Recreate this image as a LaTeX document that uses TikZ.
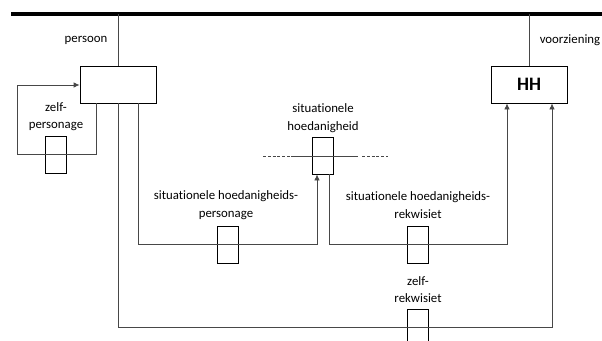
\documentclass[tikz,border=0pt]{standalone}
\usepackage{fontspec}
\setmainfont[Ligatures=NoCommon]{Carlito}
\usetikzlibrary{arrows.meta}
\begin{document}
\begin{tikzpicture}[x=1pt,y=-1pt,
  bigbox/.style={draw=black, line width=0.8pt, minimum width=76pt, minimum height=37pt, inner sep=0pt},
  smallbox/.style={draw=black, line width=0.8pt, minimum width=21pt, minimum height=37pt, inner sep=0pt},
  conn/.style={draw=black!72, line width=0.8pt},
  arr/.style={conn, -{Latex[length=6pt,width=5.5pt]}},
  lbl/.style={font=\fontsize{12.8}{17.5}\selectfont, align=center, inner sep=0pt},
  dashpart/.style={draw=black!72, line width=0.8pt, dash pattern=on 3pt off 1.8pt},
  bar/.style={draw=black, line width=4pt},
]
\useasboundingbox (0,0) rectangle (602,340);
\clip (0,0) rectangle (602,340);

% top bar
\coordinate (barL) at (11,14);
\coordinate (barR) at (602,14);
\draw[bar] (barL) -- (barR);

% main boxes
\node[bigbox] (persoon) at (118,84.5) {};
\node[bigbox, font=\fontsize{19}{22}\selectfont\bfseries] (hh) at (529,84.5) {HH};

% small boxes
\node[smallbox] (zp) at (55.5,155) {};
\node[smallbox] (sh) at (323,155.5) {};
\node[smallbox] (shp) at (227.5,244.5) {};
\node[smallbox] (shr) at (418,244.5) {};
\node[smallbox] (zr) at (418,327.5) {};

% labels
\node[lbl] (lpersoon) at (86,40) {persoon};
\node[lbl] (lvoorz) at (570,40) {voorziening};
\node[lbl] (lzp) at (56,116.5) {zelf-\\personage};
\node[lbl] (lsh) at (323,118) {situationele\\hoedanigheid};
\node[lbl] (lshp) at (226,205) {situationele hoedanigheids-\\personage};
\node[lbl] (lshr) at (418,205) {situationele hoedanigheids-\\rekwisiet};
\node[lbl] (lzr) at (418,289.5) {zelf-\\rekwisiet};

% connections to bar
\draw[conn] (persoon.north) -- (persoon.north |- barL);
\draw[conn] (hh.north) -- (hh.north |- barL);

% zelf-personage loop
\coordinate (zp1) at ([xshift=-22pt]persoon.south);
\coordinate (zpc) at (17,154);
\coordinate (zpd) at (17,85);
\draw[arr] (zp1) -- (zp1 |- zpc) -- (zpc) -- (zpd) -- (persoon.west |- zpd);

% zelf-rekwisiet
\coordinate (zr1) at (118,327);
\coordinate (zr2) at ([xshift=23pt]hh.south |- zr1);
\draw[arr] (persoon.south) -- (zr1) -- (zr2) -- ([xshift=23pt]hh.south);

% situationele hoedanigheids-personage
\coordinate (p1) at ([xshift=20pt]persoon.south);
\coordinate (p2) at (p1 |- 0,244);
\coordinate (p3) at ([xshift=-6pt]sh.south |- p2);
\draw[arr] (p1) -- (p2) -- (p3) -- ([xshift=-6pt]sh.south);

% situationele hoedanigheids-rekwisiet
\coordinate (r1) at ([xshift=6pt]sh.south);
\coordinate (r2) at (r1 |- 0,244);
\coordinate (r3) at ([xshift=-22pt]hh.south |- r2);
\draw[arr] (r1) -- (r2) -- (r3) -- ([xshift=-22pt]hh.south);

% situationele hoedanigheid line
\coordinate (d1) at (263,156);
\coordinate (d2) at (291,156);
\coordinate (d3) at (358,156);
\coordinate (d4) at (362,156);
\coordinate (d5) at (388,156);
\draw[dashpart] (d1) -- (d2);
\draw[conn] (d2) -- (d3);
\draw[dashpart] (d4) -- (d5);
\end{tikzpicture}
\end{document}
